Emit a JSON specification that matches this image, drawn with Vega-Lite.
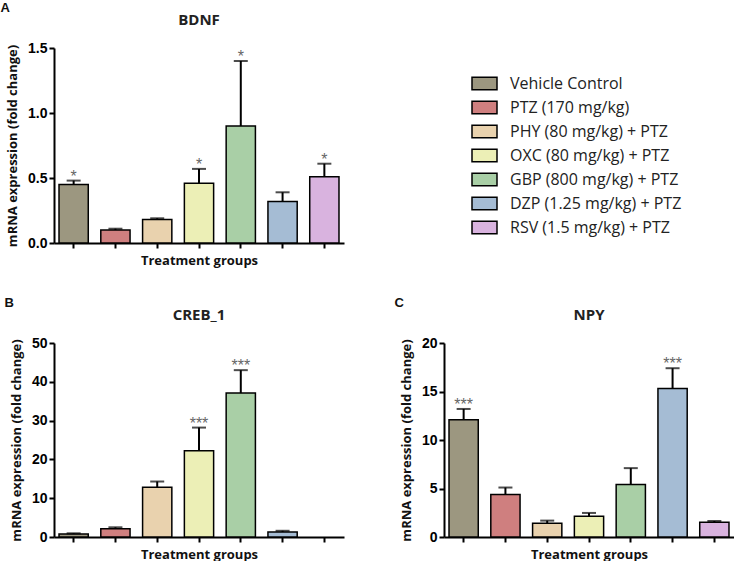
{
  "$schema": "https://vega.github.io/schema/vega-lite/v6.json",
  "background": "white",
  "padding": {"left": 0, "top": 2, "right": 0, "bottom": 0},
  "config": {
    "view": {"stroke": null},
    "axis": {"grid": false, "domainColor": "black", "domainWidth": 2, "tickColor": "black", "tickWidth": 2, "tickSize": 5, "labelColor": "black", "labelFont": "Liberation Sans", "labelFontWeight": "bold", "labelFontSize": 14, "labelPadding": 2, "labelOverlap": false, "titleColor": "#111", "titleFont": "Open Sans", "titleFontWeight": "bold", "titleFontSize": 13},
    "axisX": {"labels": false, "titlePadding": 5},
    "axisY": {"titlePadding": 8},
    "title": {"font": "Open Sans", "fontWeight": "bold", "fontSize": 15, "color": "#222", "offset": 13}
  },
  "datasets": {
    "bdnf": [
      {"group": "Vehicle Control", "mean": 0.45, "hi": 0.48, "sig": "*"},
      {"group": "PTZ (170 mg/kg)", "mean": 0.10, "hi": 0.11, "sig": ""},
      {"group": "PHY (80 mg/kg) + PTZ", "mean": 0.18, "hi": 0.19, "sig": ""},
      {"group": "OXC (80 mg/kg) + PTZ", "mean": 0.46, "hi": 0.57, "sig": "*"},
      {"group": "GBP (800 mg/kg) + PTZ", "mean": 0.90, "hi": 1.40, "sig": "*"},
      {"group": "DZP (1.25 mg/kg) + PTZ", "mean": 0.32, "hi": 0.39, "sig": ""},
      {"group": "RSV (1.5 mg/kg) + PTZ", "mean": 0.51, "hi": 0.61, "sig": "*"}
    ],
    "creb": [
      {"group": "Vehicle Control", "mean": 0.8, "hi": 0.95, "sig": ""},
      {"group": "PTZ (170 mg/kg)", "mean": 2.1, "hi": 2.5, "sig": ""},
      {"group": "PHY (80 mg/kg) + PTZ", "mean": 12.8, "hi": 14.3, "sig": ""},
      {"group": "OXC (80 mg/kg) + PTZ", "mean": 22.2, "hi": 28.2, "sig": "***"},
      {"group": "GBP (800 mg/kg) + PTZ", "mean": 37.1, "hi": 43.0, "sig": "***"},
      {"group": "DZP (1.25 mg/kg) + PTZ", "mean": 1.3, "hi": 1.6, "sig": ""}
    ],
    "npy": [
      {"group": "Vehicle Control", "mean": 12.1, "hi": 13.2, "sig": "***"},
      {"group": "PTZ (170 mg/kg)", "mean": 4.37, "hi": 5.1, "sig": ""},
      {"group": "PHY (80 mg/kg) + PTZ", "mean": 1.41, "hi": 1.69, "sig": ""},
      {"group": "OXC (80 mg/kg) + PTZ", "mean": 2.13, "hi": 2.48, "sig": ""},
      {"group": "GBP (800 mg/kg) + PTZ", "mean": 5.4, "hi": 7.1, "sig": ""},
      {"group": "DZP (1.25 mg/kg) + PTZ", "mean": 15.3, "hi": 17.4, "sig": "***"},
      {"group": "RSV (1.5 mg/kg) + PTZ", "mean": 1.51, "hi": 1.65, "sig": ""}
    ]
  },
  "resolve": {"scale": {"color": "independent"}, "legend": {"color": "independent"}},
  "spacing": 30,
  "vconcat": [
    {
      "title": {"text": "A", "anchor": "start", "font": "Liberation Sans", "fontSize": 13, "fontWeight": "bold", "color": "#111", "dx": -6, "offset": -2},
      "resolve": {"scale": {"color": "independent"}, "legend": {"color": "independent"}},
      "vconcat": [
        {
          "width": 290, "height": 195,
          "data": {"name": "bdnf"},
          "title": {"text": "BDNF"},
          "encoding": {
            "x": {"field": "group", "type": "nominal", "sort": null,
              "scale": {"domain": ["Vehicle Control", "PTZ (170 mg/kg)", "PHY (80 mg/kg) + PTZ", "OXC (80 mg/kg) + PTZ", "GBP (800 mg/kg) + PTZ", "DZP (1.25 mg/kg) + PTZ", "RSV (1.5 mg/kg) + PTZ"], "paddingInner": 0.3, "paddingOuter": 0.12},
              "axis": {"title": "Treatment groups"}}
          },
          "layer": [
            {
              "mark": {"type": "bar", "stroke": "black", "strokeWidth": 1.5},
              "encoding": {
                "y": {"field": "mean", "type": "quantitative", "scale": {"domain": [0, 1.5], "nice": false}, "axis": {"values": [0, 0.5, 1, 1.5], "format": ".1f", "labelOverlap": false, "title": "mRNA expression (fold change)"}},
                "color": {"field": "group", "type": "nominal", "sort": null,
                  "scale": {"domain": ["Vehicle Control", "PTZ (170 mg/kg)", "PHY (80 mg/kg) + PTZ", "OXC (80 mg/kg) + PTZ", "GBP (800 mg/kg) + PTZ", "DZP (1.25 mg/kg) + PTZ", "RSV (1.5 mg/kg) + PTZ"], "range": ["#9c9780", "#cf7f7f", "#e9d2ae", "#ecefb6", "#a9cfa6", "#a5bcd4", "#d9b3df"]},
                  "legend": {"orient": "none", "legendX": 417, "legendY": 22, "title": null, "padding": 0, "symbolType": "M-1,-0.5H1V0.5H-1Z", "symbolSize": 625, "symbolStrokeColor": "black", "symbolStrokeWidth": 1.5, "symbolOpacity": 1, "labelFont": "Open Sans", "labelFontSize": 16, "labelColor": "#222", "labelOffset": 12, "rowPadding": 1, "labelLimit": 300}}
              }
            },
            {
              "mark": {"type": "rule", "color": "black", "strokeWidth": 2},
              "encoding": {"y": {"field": "mean", "type": "quantitative", "axis": {"values": [0, 0.5, 1, 1.5], "format": ".1f", "labelOverlap": false, "title": "mRNA expression (fold change)"}}, "y2": {"field": "hi"}}
            },
            {
              "mark": {"type": "tick", "color": "black", "thickness": 2, "size": 14},
              "encoding": {"y": {"field": "hi", "type": "quantitative", "axis": {"values": [0, 0.5, 1, 1.5], "format": ".1f", "labelOverlap": false, "title": "mRNA expression (fold change)"}}}
            },
            {
              "mark": {"type": "text", "font": "Liberation Sans", "fontSize": 16, "color": "#666", "baseline": "alphabetic", "dy": 1},
              "encoding": {"y": {"field": "hi", "type": "quantitative", "axis": {"values": [0, 0.5, 1, 1.5], "format": ".1f", "labelOverlap": false, "title": "mRNA expression (fold change)"}}, "text": {"field": "sig"}}
            }
          ]
        }
      ]
    },
    {
      "spacing": 50,
      "resolve": {"scale": {"color": "independent"}, "legend": {"color": "independent"}},
      "hconcat": [
        {
          "title": {"text": "B", "anchor": "start", "font": "Liberation Sans", "fontSize": 13, "fontWeight": "bold", "color": "#111", "dx": -6, "offset": -2},
          "resolve": {"scale": {"color": "independent"}, "legend": {"color": "independent"}},
          "vconcat": [
            {
              "width": 290, "height": 194,
              "data": {"name": "creb"},
              "title": {"text": "CREB_1"},
              "encoding": {
                "x": {"field": "group", "type": "nominal", "sort": null,
                  "scale": {"domain": ["Vehicle Control", "PTZ (170 mg/kg)", "PHY (80 mg/kg) + PTZ", "OXC (80 mg/kg) + PTZ", "GBP (800 mg/kg) + PTZ", "DZP (1.25 mg/kg) + PTZ", "RSV (1.5 mg/kg) + PTZ"], "paddingInner": 0.3, "paddingOuter": 0.12},
                  "axis": {"title": "Treatment groups"}}
              },
              "layer": [
                {
                  "mark": {"type": "bar", "stroke": "black", "strokeWidth": 1.5},
                  "encoding": {
                    "y": {"field": "mean", "type": "quantitative", "scale": {"domain": [0, 50], "nice": false}, "axis": {"values": [0, 10, 20, 30, 40, 50], "format": "d", "labelOverlap": false, "title": "mRNA expression (fold change)"}},
                    "color": {"field": "group", "type": "nominal", "sort": null,
                      "scale": {"domain": ["Vehicle Control", "PTZ (170 mg/kg)", "PHY (80 mg/kg) + PTZ", "OXC (80 mg/kg) + PTZ", "GBP (800 mg/kg) + PTZ", "DZP (1.25 mg/kg) + PTZ", "RSV (1.5 mg/kg) + PTZ"], "range": ["#9c9780", "#cf7f7f", "#e9d2ae", "#ecefb6", "#a9cfa6", "#a5bcd4", "#d9b3df"]},
                      "legend": null}
                  }
                },
                {
                  "mark": {"type": "rule", "color": "black", "strokeWidth": 2},
                  "encoding": {"y": {"field": "mean", "type": "quantitative", "axis": {"values": [0, 10, 20, 30, 40, 50], "format": "d", "labelOverlap": false, "title": "mRNA expression (fold change)"}}, "y2": {"field": "hi"}}
                },
                {
                  "mark": {"type": "tick", "color": "black", "thickness": 2, "size": 14},
                  "encoding": {"y": {"field": "hi", "type": "quantitative", "axis": {"values": [0, 10, 20, 30, 40, 50], "format": "d", "labelOverlap": false, "title": "mRNA expression (fold change)"}}}
                },
                {
                  "mark": {"type": "text", "font": "Liberation Sans", "fontSize": 16, "color": "#666", "baseline": "alphabetic", "dy": 1},
                  "encoding": {"y": {"field": "hi", "type": "quantitative", "axis": {"values": [0, 10, 20, 30, 40, 50], "format": "d", "labelOverlap": false, "title": "mRNA expression (fold change)"}}, "text": {"field": "sig"}}
                }
              ]
            }
          ]
        },
        {
          "title": {"text": "C", "anchor": "start", "font": "Liberation Sans", "fontSize": 13, "fontWeight": "bold", "color": "#111", "dx": -6, "offset": -2},
          "resolve": {"scale": {"color": "independent"}, "legend": {"color": "independent"}},
          "vconcat": [
            {
              "width": 290, "height": 194,
              "data": {"name": "npy"},
              "title": {"text": "NPY"},
              "encoding": {
                "x": {"field": "group", "type": "nominal", "sort": null,
                  "scale": {"domain": ["Vehicle Control", "PTZ (170 mg/kg)", "PHY (80 mg/kg) + PTZ", "OXC (80 mg/kg) + PTZ", "GBP (800 mg/kg) + PTZ", "DZP (1.25 mg/kg) + PTZ", "RSV (1.5 mg/kg) + PTZ"], "paddingInner": 0.3, "paddingOuter": 0.12},
                  "axis": {"title": "Treatment groups"}}
              },
              "layer": [
                {
                  "mark": {"type": "bar", "stroke": "black", "strokeWidth": 1.5},
                  "encoding": {
                    "y": {"field": "mean", "type": "quantitative", "scale": {"domain": [0, 20], "nice": false}, "axis": {"values": [0, 5, 10, 15, 20], "format": "d", "labelOverlap": false, "title": "mRNA expression (fold change)"}},
                    "color": {"field": "group", "type": "nominal", "sort": null,
                      "scale": {"domain": ["Vehicle Control", "PTZ (170 mg/kg)", "PHY (80 mg/kg) + PTZ", "OXC (80 mg/kg) + PTZ", "GBP (800 mg/kg) + PTZ", "DZP (1.25 mg/kg) + PTZ", "RSV (1.5 mg/kg) + PTZ"], "range": ["#9c9780", "#cf7f7f", "#e9d2ae", "#ecefb6", "#a9cfa6", "#a5bcd4", "#d9b3df"]},
                      "legend": null}
                  }
                },
                {
                  "mark": {"type": "rule", "color": "black", "strokeWidth": 2},
                  "encoding": {"y": {"field": "mean", "type": "quantitative", "axis": {"values": [0, 5, 10, 15, 20], "format": "d", "labelOverlap": false, "title": "mRNA expression (fold change)"}}, "y2": {"field": "hi"}}
                },
                {
                  "mark": {"type": "tick", "color": "black", "thickness": 2, "size": 14},
                  "encoding": {"y": {"field": "hi", "type": "quantitative", "axis": {"values": [0, 5, 10, 15, 20], "format": "d", "labelOverlap": false, "title": "mRNA expression (fold change)"}}}
                },
                {
                  "mark": {"type": "text", "font": "Liberation Sans", "fontSize": 16, "color": "#666", "baseline": "alphabetic", "dy": 1},
                  "encoding": {"y": {"field": "hi", "type": "quantitative", "axis": {"values": [0, 5, 10, 15, 20], "format": "d", "labelOverlap": false, "title": "mRNA expression (fold change)"}}, "text": {"field": "sig"}}
                }
              ]
            }
          ]
        }
      ]
    }
  ]
}
